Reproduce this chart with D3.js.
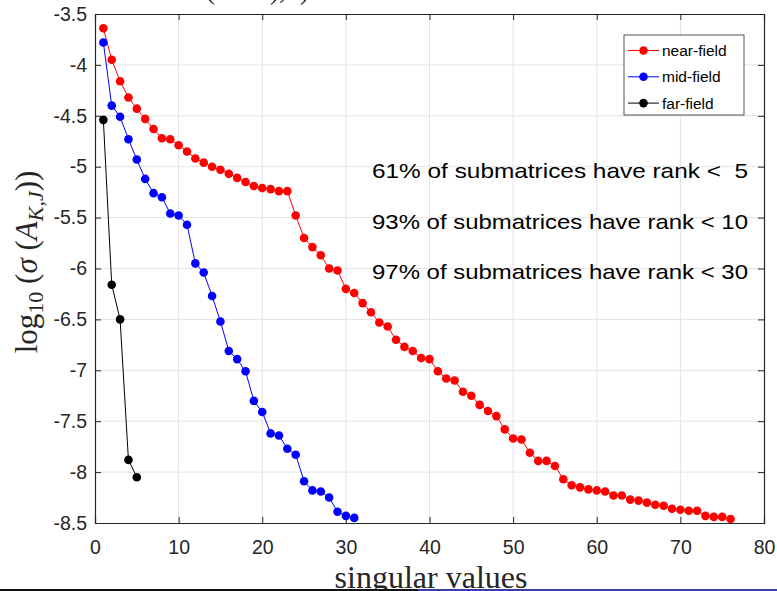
<!DOCTYPE html>
<html>
<head>
<meta charset="utf-8">
<script src="https://cdn.jsdelivr.net/npm/d3@7"></script>
<style>
  body { margin: 0; background: #fff; }
  svg { display: block; }
  .tick text { font-family: "Liberation Sans", Arial, sans-serif; font-size: 19.5px; fill: #262626; }
  .axis path, .axis line { stroke: #262626; }
  .grid line { stroke: #e3e3e3; }
</style>
</head>
<body>
<svg id="chart"></svg>
<script>
// singular values (log10), index = position in the array + 1
const nearField = [-3.64, -3.95, -4.16, -4.32, -4.43, -4.53, -4.63, -4.72, -4.73, -4.79,
  -4.85, -4.92, -4.96, -5.00, -5.03, -5.07, -5.11, -5.15, -5.19, -5.21,
  -5.22, -5.24, -5.24, -5.48, -5.70, -5.79, -5.87, -6.00, -6.02, -6.20,
  -6.24, -6.34, -6.43, -6.53, -6.57, -6.70, -6.77, -6.81, -6.88, -6.89,
  -7.01, -7.08, -7.10, -7.21, -7.25, -7.34, -7.40, -7.45, -7.58, -7.67,
  -7.68, -7.81, -7.89, -7.89, -7.94, -8.07, -8.13, -8.15, -8.17, -8.18,
  -8.19, -8.23, -8.23, -8.27, -8.28, -8.30, -8.32, -8.33, -8.36, -8.37,
  -8.38, -8.38, -8.43, -8.44, -8.44, -8.46];
const midField = [-3.78, -4.40, -4.51, -4.73, -4.93, -5.12, -5.26, -5.30, -5.46, -5.48,
  -5.57, -5.95, -6.04, -6.27, -6.52, -6.81, -6.89, -7.01, -7.30, -7.41,
  -7.62, -7.64, -7.77, -7.83, -8.09, -8.18, -8.19, -8.25, -8.39, -8.43, -8.45];
const farField = [-4.54, -6.16, -6.50, -7.88, -8.05];

const seriesNames = ['near-field', 'mid-field', 'far-field'];
const seriesColors = ['#ff0000', '#0000ff', '#000000'];
const xTicks = [0, 10, 20, 30, 40, 50, 60, 70, 80];
const yTicks = [-3.5, -4, -4.5, -5, -5.5, -6, -6.5, -7, -7.5, -8, -8.5];
const notes = ['61% of submatrices have rank <  5',
               '93% of submatrices have rank < 10',
               '97% of submatrices have rank < 30'];

const width = 777, height = 591;
const margin = {top: 14, right: 13, bottom: 68, left: 95};
const innerW = width - margin.left - margin.right;
const innerH = height - margin.top - margin.bottom;

const svg = d3.select('#chart').attr('width', width).attr('height', height);

const x = d3.scaleLinear().domain([0, 80]).range([0, innerW]);
const y = d3.scaleLinear().domain([-8.5, -3.5]).range([innerH, 0]);

const g = svg.append('g').attr('transform', `translate(${margin.left},${margin.top})`);

// grid
g.append('g').attr('class', 'grid')
  .selectAll('line.v').data(xTicks.slice(1, -1)).join('line')
  .attr('x1', d => x(d)).attr('x2', d => x(d)).attr('y1', 0).attr('y2', innerH);
g.append('g').attr('class', 'grid')
  .selectAll('line.h').data(yTicks.slice(1, -1)).join('line')
  .attr('y1', d => y(d)).attr('y2', d => y(d)).attr('x1', 0).attr('x2', innerW);

// axes, matlab style: ticks inward on all four sides
const fmt = d => String(d).replace('\u2212', '-');
g.append('g').attr('class', 'axis').attr('transform', `translate(0,${innerH})`)
  .call(d3.axisBottom(x).tickValues(xTicks).tickSize(-6).tickPadding(17).tickFormat(fmt));
g.append('g').attr('class', 'axis')
  .call(d3.axisLeft(y).tickValues(yTicks).tickSize(-6).tickPadding(8).tickFormat(fmt));
g.append('g').attr('class', 'axis')
  .call(d3.axisTop(x).tickValues(xTicks).tickSize(-6).tickFormat(''));
g.append('g').attr('class', 'axis').attr('transform', `translate(${innerW},0)`)
  .call(d3.axisRight(y).tickValues(yTicks).tickSize(-6).tickFormat(''));
g.selectAll('.axis path').attr('stroke-width', 1.2);

// series
const allSeries = [nearField, midField, farField];
const line = d3.line().x((d, i) => x(i + 1)).y(d => y(d));
allSeries.forEach((vals, k) => {
  g.append('path').datum(vals)
    .attr('fill', 'none').attr('stroke', seriesColors[k]).attr('stroke-width', 1)
    .attr('d', line);
  g.selectAll(null).data(vals).join('circle')
    .attr('cx', (d, i) => x(i + 1)).attr('cy', d => y(d)).attr('r', 4.3)
    .attr('fill', seriesColors[k]);
});

// annotations
notes.forEach((t, i) => {
  g.append('text')
    .attr('x', 277).attr('y', 164 + i * 50.5)
    .attr('textLength', 376).attr('lengthAdjust', 'spacingAndGlyphs')
    .style('font-family', '"Liberation Sans", Arial, sans-serif')
    .style('font-size', '21px').style('fill', '#000')
    .style('white-space', 'pre')
    .text(t);
});

// legend
const lg = svg.append('g').attr('transform', 'translate(624,35)');
lg.append('rect').attr('width', 120).attr('height', 80)
  .attr('fill', '#fff').attr('stroke', '#262626').attr('stroke-width', 0.8);
seriesNames.forEach((name, i) => {
  const yy = 15.5 + i * 26.3;
  lg.append('line').attr('x1', 4).attr('x2', 35).attr('y1', yy).attr('y2', yy)
    .attr('stroke', seriesColors[i]).attr('stroke-width', 1);
  lg.append('circle').attr('cx', 19.5).attr('cy', yy).attr('r', 4.3).attr('fill', seriesColors[i]);
  lg.append('text').attr('x', 38).attr('y', yy + 5.5)
    .style('font-family', '"Liberation Sans", Arial, sans-serif')
    .style('font-size', '15.5px').style('fill', '#000').text(name);
});

// y label: log10(sigma(A_{K,J}))
const serif = '"Liberation Serif", "DejaVu Serif", serif';
const yl = svg.append('text')
  .attr('transform', 'translate(37,262) rotate(-90)')
  .attr('text-anchor', 'middle')
  .style('font-family', serif).style('font-size', '31px').style('fill', '#262626');
yl.append('tspan').text('log');
yl.append('tspan').attr('dy', 6).style('font-size', '22px').text('10');
yl.append('tspan').attr('dy', -6).text(' (');
yl.append('tspan').style('font-style', 'italic').text('\u03c3');
yl.append('tspan').text(' (');
yl.append('tspan').style('font-style', 'italic').text('A');
yl.append('tspan').attr('dy', 6).style('font-size', '22px').style('font-style', 'italic').text('K,J');
yl.append('tspan').attr('dy', -6).text('))');

// x label (cut off by the window, as in the original)
svg.append('text')
  .attr('x', 431).attr('y', 588)
  .attr('text-anchor', 'middle')
  .style('font-family', serif).style('font-size', '32px').style('fill', '#262626')
  .text('singular values');

// title, mostly outside the window
const tl = svg.append('text').attr('y', -1)
  .style('font-family', serif).style('font-size', '27px').style('fill', '#262626');
tl.append('tspan').attr('x', 206).text('(');
tl.append('tspan').attr('x', 270).text('),');
tl.append('tspan').attr('x', 300).text(')');

// bottom edge strip
svg.append('rect').attr('x', 0).attr('y', 589).attr('width', 418).attr('height', 2).attr('fill', '#111');
svg.append('rect').attr('x', 418).attr('y', 589).attr('width', 359).attr('height', 2).attr('fill', '#3b3bb0');
</script>
</body>
</html>
